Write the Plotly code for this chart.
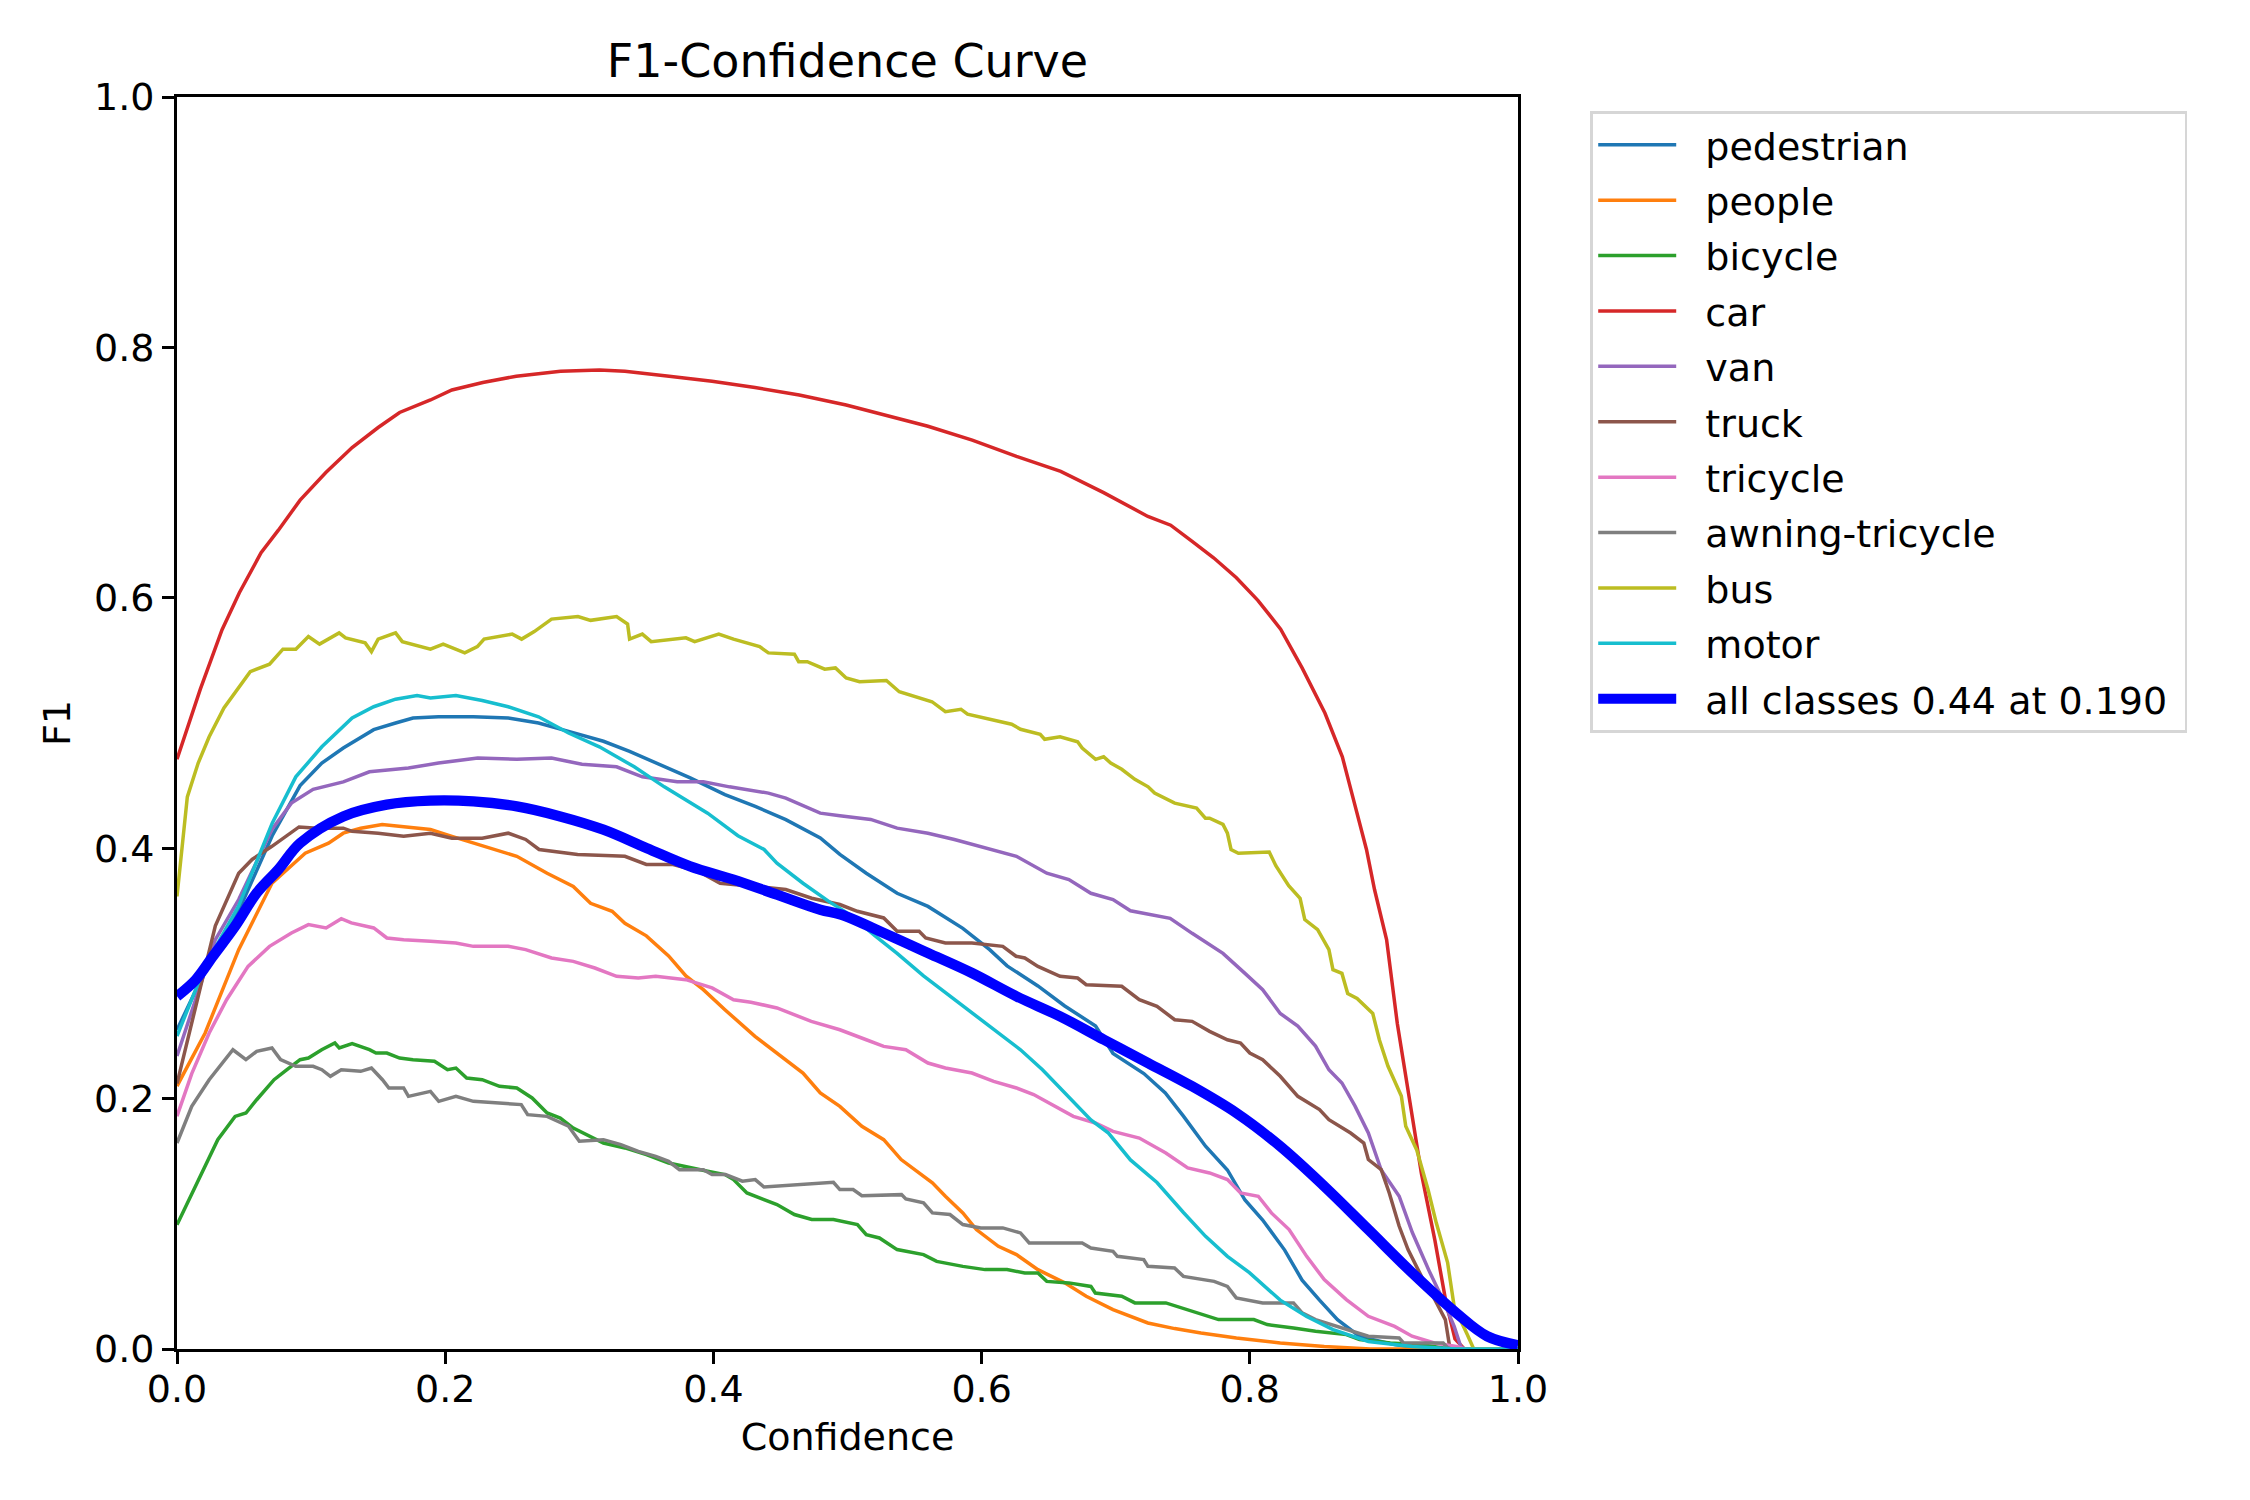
import plotly.graph_objects as go

# F1 vs confidence
names = ["pedestrian", "people", "bicycle", "car", "van", "truck",
         "tricycle", "awning-tricycle", "bus", "motor"]
colors = ["#1f77b4", "#ff7f0e", "#2ca02c", "#d62728", "#9467bd",
          "#8c564b", "#e377c2", "#7f7f7f", "#bcbd22", "#17becf"]

pedestrian_x = [0.0, 0.021, 0.046, 0.071, 0.0918, 0.108, 0.124, 0.1467, 0.163, 0.176, 0.195, 0.221, 0.247, 0.2696, 0.292, 0.318, 0.3375, 0.36, 0.3827, 0.4086, 0.4312, 0.454, 0.4797, 0.4943, 0.514, 0.537, 0.56, 0.586, 0.606, 0.619, 0.642, 0.662, 0.685, 0.698, 0.721, 0.737, 0.7505, 0.767, 0.7833, 0.7964, 0.8096, 0.826, 0.839, 0.852, 0.8654, 0.8818, 0.908, 0.93, 1.0]
pedestrian_y = [0.255, 0.302, 0.35, 0.41, 0.45, 0.468, 0.48, 0.4947, 0.5, 0.504, 0.505, 0.505, 0.504, 0.5, 0.4933, 0.4854, 0.4774, 0.4667, 0.4561, 0.4428, 0.4334, 0.4228, 0.4082, 0.395, 0.38, 0.364, 0.3535, 0.336, 0.319, 0.306, 0.29, 0.274, 0.258, 0.236, 0.22, 0.2045, 0.186, 0.162, 0.143, 0.119, 0.103, 0.079, 0.055, 0.039, 0.0235, 0.01, 0.0035, 0.0, 0.0]

people_x = [0.0, 0.021, 0.046, 0.0708, 0.0956, 0.113, 0.124, 0.137, 0.153, 0.169, 0.189, 0.205, 0.221, 0.2534, 0.276, 0.2955, 0.3084, 0.3245, 0.334, 0.35, 0.3666, 0.3795, 0.3925, 0.4086, 0.431, 0.4507, 0.4668, 0.4797, 0.4943, 0.5107, 0.527, 0.54, 0.5518, 0.5633, 0.573, 0.586, 0.5961, 0.6125, 0.626, 0.642, 0.662, 0.678, 0.698, 0.724, 0.744, 0.7636, 0.79, 0.8227, 0.8555, 0.89, 1.0]
people_y = [0.21, 0.2524, 0.319, 0.372, 0.396, 0.404, 0.412, 0.416, 0.419, 0.4175, 0.415, 0.4095, 0.404, 0.3935, 0.38, 0.3695, 0.356, 0.3496, 0.34, 0.33, 0.314, 0.298, 0.287, 0.271, 0.2497, 0.2338, 0.2204, 0.2045, 0.1938, 0.1779, 0.1672, 0.1513, 0.142, 0.1327, 0.122, 0.1087, 0.0954, 0.082, 0.0754, 0.0634, 0.0528, 0.0421, 0.0315, 0.0208, 0.0163, 0.0128, 0.0088, 0.0048, 0.002, 0.0, 0.0]

bicycle_x = [0.0, 0.014, 0.0304, 0.0433, 0.0514, 0.0594, 0.0724, 0.082, 0.0918, 0.098, 0.1079, 0.1177, 0.121, 0.1306, 0.1435, 0.1484, 0.1565, 0.166, 0.176, 0.192, 0.2017, 0.208, 0.216, 0.2276, 0.2405, 0.2534, 0.2648, 0.276, 0.2858, 0.2955, 0.3084, 0.318, 0.334, 0.35, 0.3666, 0.3827, 0.3957, 0.4086, 0.415, 0.425, 0.4345, 0.4474, 0.4604, 0.4733, 0.4895, 0.5017, 0.5074, 0.514, 0.5238, 0.537, 0.5567, 0.5665, 0.586, 0.6026, 0.619, 0.6322, 0.642, 0.6486, 0.6651, 0.6815, 0.6848, 0.7045, 0.7143, 0.7374, 0.757, 0.7767, 0.803, 0.813, 0.8326, 0.849, 0.872, 0.8818, 0.9048, 0.9278, 0.95, 1.0]
bicycle_y = [0.0993, 0.13, 0.1672, 0.1858, 0.1885, 0.1991, 0.2151, 0.2231, 0.2311, 0.2324, 0.2391, 0.2444, 0.2404, 0.2439, 0.2391, 0.2364, 0.2364, 0.2324, 0.2311, 0.2298, 0.2231, 0.2244, 0.2164, 0.2151, 0.2098, 0.2085, 0.2005, 0.1885, 0.1845, 0.1765, 0.1699, 0.1645, 0.1606, 0.1552, 0.1486, 0.1446, 0.142, 0.1393, 0.1353, 0.1246, 0.1207, 0.1154, 0.1074, 0.1034, 0.1034, 0.1007, 0.0994, 0.0914, 0.0887, 0.0794, 0.0754, 0.07, 0.066, 0.0634, 0.0634, 0.0607, 0.0607, 0.054, 0.0528, 0.05, 0.0447, 0.0421, 0.0368, 0.0368, 0.0301, 0.0235, 0.0235, 0.0195, 0.0168, 0.0142, 0.0115, 0.0075, 0.0048, 0.0035, 0.0, 0.0]

car_x = [0.0, 0.0174, 0.0336, 0.0465, 0.0627, 0.0756, 0.0918, 0.111, 0.1306, 0.15, 0.166, 0.189, 0.205, 0.228, 0.253, 0.286, 0.315, 0.334, 0.367, 0.399, 0.431, 0.464, 0.499, 0.527, 0.56, 0.593, 0.626, 0.659, 0.691, 0.724, 0.741, 0.757, 0.773, 0.79, 0.806, 0.823, 0.839, 0.856, 0.869, 0.878, 0.887, 0.893, 0.902, 0.91, 0.918, 0.928, 0.938, 0.946, 0.953, 0.96, 1.0]
car_y = [0.471, 0.527, 0.5745, 0.604, 0.636, 0.654, 0.678, 0.7, 0.72, 0.736, 0.748, 0.758, 0.766, 0.772, 0.777, 0.781, 0.782, 0.781, 0.777, 0.773, 0.768, 0.762, 0.754, 0.746, 0.737, 0.726, 0.713, 0.701, 0.684, 0.665, 0.658, 0.645, 0.632, 0.616, 0.598, 0.575, 0.544, 0.508, 0.473, 0.436, 0.399, 0.367, 0.327, 0.26, 0.207, 0.14, 0.087, 0.039, 0.008, 0.0, 0.0]

van_x = [0.0, 0.0286, 0.046, 0.0708, 0.0853, 0.1015, 0.124, 0.1435, 0.1726, 0.195, 0.2243, 0.2534, 0.2793, 0.302, 0.3278, 0.347, 0.373, 0.3925, 0.412, 0.441, 0.454, 0.4797, 0.4943, 0.5173, 0.537, 0.56, 0.5797, 0.5994, 0.626, 0.6486, 0.6651, 0.6815, 0.698, 0.711, 0.7406, 0.757, 0.78, 0.7964, 0.8096, 0.8227, 0.8358, 0.849, 0.859, 0.8687, 0.8785, 0.8884, 0.898, 0.9114, 0.9212, 0.9343, 0.9442, 0.9524, 0.9573, 0.96, 1.0]
van_y = [0.234, 0.327, 0.359, 0.415, 0.436, 0.447, 0.453, 0.461, 0.464, 0.468, 0.472, 0.471, 0.472, 0.467, 0.465, 0.457, 0.453, 0.453, 0.449, 0.444, 0.44, 0.428, 0.426, 0.423, 0.416, 0.412, 0.407, 0.4015, 0.3935, 0.38, 0.375, 0.364, 0.359, 0.35, 0.344, 0.332, 0.316, 0.3, 0.287, 0.268, 0.258, 0.242, 0.223, 0.2125, 0.194, 0.1725, 0.143, 0.122, 0.093, 0.061, 0.039, 0.018, 0.002, 0.0, 0.0]

truck_x = [0.0, 0.0286, 0.046, 0.056, 0.0708, 0.091, 0.1047, 0.124, 0.1306, 0.15, 0.169, 0.189, 0.205, 0.2276, 0.247, 0.26, 0.27, 0.2987, 0.3245, 0.334, 0.35, 0.37, 0.389, 0.405, 0.431, 0.454, 0.4733, 0.4943, 0.5074, 0.527, 0.537, 0.5534, 0.5583, 0.573, 0.5928, 0.6158, 0.6257, 0.6322, 0.642, 0.6585, 0.6716, 0.678, 0.7045, 0.7176, 0.7308, 0.744, 0.757, 0.77, 0.7833, 0.7931, 0.8, 0.8096, 0.8227, 0.8358, 0.852, 0.859, 0.8752, 0.885, 0.8884, 0.898, 0.904, 0.9114, 0.918, 0.928, 0.938, 0.9458, 0.949, 0.952, 1.0]
truck_y = [0.212, 0.338, 0.38, 0.391, 0.4015, 0.417, 0.416, 0.416, 0.4135, 0.412, 0.4095, 0.412, 0.408, 0.408, 0.412, 0.407, 0.399, 0.395, 0.394, 0.3935, 0.387, 0.387, 0.3815, 0.372, 0.3695, 0.367, 0.36, 0.355, 0.3496, 0.3443, 0.3336, 0.3336, 0.3283, 0.3243, 0.3243, 0.3216, 0.3137, 0.3123, 0.3056, 0.2977, 0.2963, 0.291, 0.2897, 0.279, 0.2737, 0.263, 0.2617, 0.2537, 0.247, 0.2444, 0.2364, 0.2311, 0.2178, 0.2018, 0.1912, 0.1832, 0.1725, 0.1645, 0.1513, 0.1433, 0.1246, 0.098, 0.0794, 0.058, 0.0394, 0.0235, 0.002, 0.0, 0.0]

tricycle_x = [0.0, 0.011, 0.024, 0.037, 0.053, 0.069, 0.0853, 0.098, 0.1112, 0.1225, 0.13, 0.1467, 0.1565, 0.169, 0.189, 0.208, 0.221, 0.247, 0.26, 0.2793, 0.2955, 0.3116, 0.3278, 0.344, 0.357, 0.3795, 0.399, 0.415, 0.428, 0.4474, 0.473, 0.4943, 0.514, 0.527, 0.5435, 0.56, 0.573, 0.5928, 0.609, 0.626, 0.6388, 0.655, 0.6684, 0.6848, 0.698, 0.7176, 0.7374, 0.7537, 0.77, 0.7833, 0.7931, 0.8063, 0.8161, 0.8293, 0.8424, 0.8555, 0.872, 0.8884, 0.908, 0.921, 0.9376, 0.954, 0.96, 1.0]
tricycle_y = [0.186, 0.22, 0.2524, 0.279, 0.3056, 0.3216, 0.3323, 0.339, 0.3363, 0.3437, 0.3403, 0.3363, 0.3283, 0.3269, 0.3256, 0.3243, 0.3216, 0.3216, 0.319, 0.3123, 0.3096, 0.3043, 0.2977, 0.2963, 0.2977, 0.295, 0.2884, 0.279, 0.277, 0.2724, 0.2617, 0.255, 0.247, 0.2417, 0.239, 0.2284, 0.2244, 0.2204, 0.2138, 0.2085, 0.2032, 0.1938, 0.1858, 0.1805, 0.1738, 0.1685, 0.1566, 0.1446, 0.1406, 0.1353, 0.1246, 0.122, 0.1087, 0.0954, 0.074, 0.0554, 0.0394, 0.0261, 0.018, 0.0102, 0.0048, 0.002, 0.0, 0.0]

awning_x = [0.0, 0.011, 0.024, 0.0336, 0.0417, 0.0514, 0.0594, 0.0708, 0.0772, 0.0886, 0.1015, 0.108, 0.1144, 0.1225, 0.137, 0.145, 0.1532, 0.158, 0.169, 0.1726, 0.189, 0.1952, 0.208, 0.221, 0.2405, 0.2567, 0.2615, 0.276, 0.292, 0.3, 0.318, 0.331, 0.344, 0.357, 0.3666, 0.3747, 0.3925, 0.399, 0.409, 0.4216, 0.4312, 0.4377, 0.4895, 0.4943, 0.5042, 0.5107, 0.5403, 0.5435, 0.5567, 0.5633, 0.5764, 0.586, 0.5994, 0.6158, 0.629, 0.6355, 0.675, 0.6815, 0.698, 0.7012, 0.7209, 0.724, 0.7439, 0.7505, 0.7734, 0.7833, 0.7899, 0.8096, 0.8326, 0.839, 0.849, 0.8687, 0.8884, 0.9114, 0.9146, 0.9442, 0.9475, 0.95, 1.0]
awning_y = [0.1645, 0.1938, 0.2151, 0.2284, 0.239, 0.2311, 0.2377, 0.2404, 0.2311, 0.2258, 0.2258, 0.2231, 0.2178, 0.2231, 0.2218, 0.2244, 0.2151, 0.2085, 0.2085, 0.2018, 0.2058, 0.1978, 0.2018, 0.1978, 0.1965, 0.1952, 0.1872, 0.1858, 0.1779, 0.1659, 0.1672, 0.1632, 0.1579, 0.1539, 0.1499, 0.1432, 0.1432, 0.1393, 0.1393, 0.134, 0.1353, 0.1294, 0.1332, 0.1273, 0.1273, 0.1225, 0.1233, 0.1199, 0.1167, 0.1087, 0.1074, 0.0994, 0.0967, 0.0967, 0.0927, 0.0847, 0.0847, 0.0807, 0.078, 0.074, 0.0714, 0.066, 0.0647, 0.058, 0.054, 0.05, 0.0408, 0.0368, 0.0368, 0.0288, 0.0235, 0.0168, 0.0102, 0.0088, 0.0048, 0.0048, 0.001, 0.0, 0.0]

bus_x = [0.0, 0.0045, 0.0077, 0.0158, 0.024, 0.035, 0.0465, 0.0546, 0.069, 0.079, 0.0886, 0.098, 0.1063, 0.1209, 0.1257, 0.1403, 0.145, 0.15, 0.163, 0.168, 0.189, 0.1985, 0.2146, 0.224, 0.229, 0.25, 0.257, 0.2664, 0.2793, 0.299, 0.3084, 0.3278, 0.336, 0.3375, 0.347, 0.3536, 0.3795, 0.386, 0.404, 0.415, 0.4345, 0.441, 0.4604, 0.4636, 0.47, 0.483, 0.491, 0.499, 0.509, 0.529, 0.5386, 0.563, 0.573, 0.5846, 0.5895, 0.6224, 0.629, 0.6437, 0.647, 0.6585, 0.6716, 0.675, 0.685, 0.691, 0.6963, 0.7045, 0.7143, 0.7242, 0.729, 0.744, 0.7603, 0.7669, 0.77, 0.78, 0.7833, 0.786, 0.7915, 0.8145, 0.8194, 0.829, 0.8375, 0.841, 0.8506, 0.859, 0.862, 0.8687, 0.873, 0.88, 0.8917, 0.8966, 0.903, 0.913, 0.9163, 0.9245, 0.933, 0.939, 0.9475, 0.9524, 0.962, 0.967, 1.0]
bus_y = [0.3615, 0.407, 0.441, 0.468, 0.489, 0.512, 0.529, 0.541, 0.547, 0.559, 0.559, 0.569, 0.563, 0.572, 0.568, 0.564, 0.557, 0.567, 0.572, 0.565, 0.559, 0.563, 0.556, 0.561, 0.567, 0.571, 0.567, 0.573, 0.583, 0.585, 0.582, 0.585, 0.579, 0.567, 0.571, 0.565, 0.568, 0.565, 0.571, 0.567, 0.561, 0.556, 0.555, 0.549, 0.549, 0.543, 0.544, 0.536, 0.533, 0.534, 0.525, 0.517, 0.509, 0.511, 0.507, 0.499, 0.495, 0.491, 0.487, 0.489, 0.485, 0.48, 0.471, 0.473, 0.468, 0.463, 0.455, 0.449, 0.444, 0.436, 0.432, 0.424, 0.424, 0.419, 0.412, 0.399, 0.396, 0.397, 0.386, 0.37, 0.36, 0.343, 0.335, 0.319, 0.303, 0.3, 0.284, 0.28, 0.268, 0.247, 0.226, 0.202, 0.178, 0.159, 0.127, 0.101, 0.069, 0.034, 0.012, 0.0, 0.0]

motor_x = [0.0, 0.021, 0.046, 0.071, 0.0886, 0.108, 0.1306, 0.1467, 0.163, 0.179, 0.189, 0.208, 0.2276, 0.247, 0.2696, 0.292, 0.315, 0.341, 0.3634, 0.3957, 0.4183, 0.4378, 0.4474, 0.4668, 0.486, 0.5017, 0.5206, 0.537, 0.5567, 0.5797, 0.5994, 0.6125, 0.629, 0.6454, 0.6618, 0.6815, 0.6946, 0.711, 0.7308, 0.7505, 0.767, 0.7833, 0.7997, 0.8227, 0.8424, 0.8621, 0.8884, 0.921, 0.954, 1.0]
motor_y = [0.25, 0.306, 0.354, 0.42, 0.457, 0.481, 0.504, 0.513, 0.519, 0.522, 0.52, 0.522, 0.518, 0.513, 0.505, 0.492, 0.481, 0.465, 0.449, 0.428, 0.41, 0.399, 0.388, 0.372, 0.3575, 0.347, 0.33, 0.316, 0.298, 0.279, 0.263, 0.252, 0.239, 0.223, 0.2045, 0.183, 0.1725, 0.151, 0.133, 0.109, 0.09, 0.074, 0.061, 0.039, 0.026, 0.0155, 0.006, 0.002, 0.0, 0.0]

all_x = [0.0, 0.014, 0.027, 0.0433, 0.0594, 0.0756, 0.0918, 0.124, 0.1564, 0.189, 0.221, 0.2534, 0.2858, 0.318, 0.3504, 0.3827, 0.415, 0.4474, 0.4797, 0.495, 0.527, 0.56, 0.5928, 0.626, 0.6585, 0.6913, 0.7242, 0.757, 0.79, 0.8227, 0.8555, 0.8884, 0.9212, 0.954, 0.977, 1.0]
all_y = [0.2817, 0.295, 0.314, 0.3376, 0.3642, 0.383, 0.404, 0.4254, 0.4348, 0.438, 0.4374, 0.4334, 0.4254, 0.4148, 0.4, 0.3855, 0.3749, 0.3629, 0.3509, 0.347, 0.3323, 0.3163, 0.3003, 0.2817, 0.2657, 0.247, 0.2284, 0.2098, 0.1885, 0.1619, 0.13, 0.0954, 0.0607, 0.0288, 0.0102, 0.003]
all_label = "all classes 0.44 at 0.190"

xs = [pedestrian_x, people_x, bicycle_x, car_x, van_x, truck_x,
      tricycle_x, awning_x, bus_x, motor_x]
ys = [pedestrian_y, people_y, bicycle_y, car_y, van_y, truck_y,
      tricycle_y, awning_y, bus_y, motor_y]

tick_vals = [0.0, 0.2, 0.4, 0.6, 0.8, 1.0]
tick_text = ["0.0", "0.2", "0.4", "0.6", "0.8", "1.0"]

font = "DejaVu Sans, Verdana, sans-serif"
gap = "\u00a0\u00a0"  # space between legend line and its text

fig = go.Figure()
for name, x, y, c in zip(names, xs, ys, colors):
    fig.add_trace(go.Scatter(x=x, y=y, mode="lines", name=gap + name, legendgroup=name,
                             line=dict(color=c, width=3.5)))
fig.add_trace(go.Scatter(x=all_x, y=all_y, mode="lines", name=gap + all_label + "\u00a0",
                         legendgroup="all", line=dict(color="#0000ff", width=10.4, shape="spline")))

axis = dict(range=[0, 1], tickvals=tick_vals, ticktext=tick_text,
            ticks="outside", ticklen=12, tickwidth=2.8, tickcolor="black",
            showline=True, linecolor="black", linewidth=2.8, mirror=True,
            showgrid=False, zeroline=False,
            tickfont=dict(size=38, color="black", family=font))

# the page body adds an 8px offset, so the figure is 8px smaller
fig.update_layout(
    width=2242, height=1492, autosize=False,
    margin=dict(l=169, r=732, t=89, b=151),
    paper_bgcolor="white", plot_bgcolor="white",
    font=dict(family=font, size=38, color="black"),
    title=dict(text="F1-Confidence Curve", x=0.5, xref="paper", xanchor="center",
               y=1 - 53 / 1492, yref="container", yanchor="middle",
               font=dict(size=46, color="black", family=font)),
    xaxis=dict(axis, ticklabelstandoff=-8,
               title=dict(text="Confidence", standoff=14,
                          font=dict(size=38, family=font))),
    yaxis=dict(axis, title=dict(text="F1", standoff=12,
                                font=dict(size=38, family=font))),
    legend=dict(x=1.054, y=0.989, xanchor="left", yanchor="top",
                bordercolor="#d6d6d6", borderwidth=2.8, bgcolor="white",
                font=dict(size=38, family=font, color="black"),
                traceorder="grouped", tracegroupgap=3, itemwidth=78),
    showlegend=True,
)

fig.write_html("out.html")
